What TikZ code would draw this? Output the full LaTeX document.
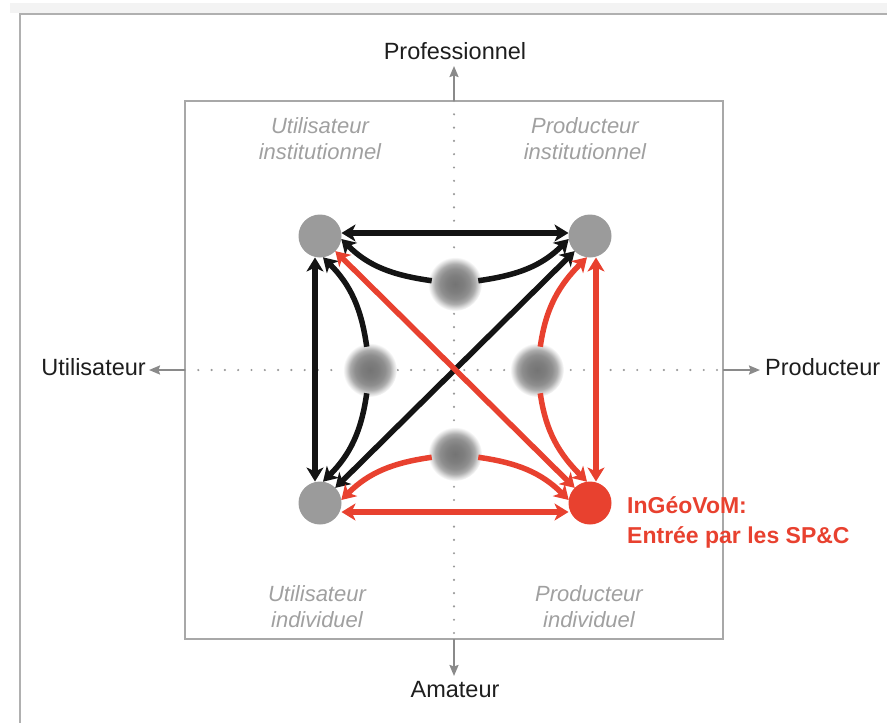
\documentclass[tikz,border=0pt]{standalone}
\usepackage{fontspec}
\setmainfont{Liberation Sans}
\usetikzlibrary{arrows.meta}
\definecolor{cred}{HTML}{E8412F}
\definecolor{cgray}{HTML}{9B9B9B}
\definecolor{cblk}{HTML}{141414}
\definecolor{sqgray}{HTML}{A8A8A8}
\definecolor{axgray}{HTML}{8A8A8A}
\definecolor{dotgray}{HTML}{9A9A9A}
\definecolor{labgray}{HTML}{A0A0A0}
\definecolor{txtdark}{HTML}{1E1E1E}
\definecolor{band}{HTML}{F3F3F3}
\definecolor{frm}{HTML}{B0B0B0}
\definecolor{fza}{HTML}{747474}
\definecolor{fzb}{HTML}{7E7E7E}
\definecolor{fzc}{HTML}{8E8E8E}
\definecolor{fzd}{HTML}{ABABAB}
\definecolor{fze}{HTML}{DADADA}
\pgfdeclareradialshading{fuzz}{\pgfpoint{0bp}{0bp}}{color(0bp)=(fza); color(8bp)=(fzb); color(14bp)=(fzc); color(18.5bp)=(fzd); color(22bp)=(fze); color(25bp)=(white); color(50bp)=(white)}
\tikzset{
  corner/.style={circle, fill=cgray, minimum size=43pt, inner sep=0pt, outer sep=0pt},
  cornerred/.style={corner, fill=cred},
  fuzzy/.style={circle, minimum size=54pt, inner sep=0pt, outer sep=-3.5pt, shade, shading=fuzz},
  blk/.style={draw=cblk, line width=5.5pt},
  rdd/.style={draw=cred, line width=5.5pt},
  onehead/.style={arrows={-Stealth[length=14pt,width=17pt,inset=4pt]}},
  twohead/.style={arrows={Stealth[length=14pt,width=17pt,inset=4pt]-Stealth[length=14pt,width=17pt,inset=4pt]}},
  axarr/.style={draw=axgray, line width=2pt, arrows={-Stealth[length=11pt,width=9pt,inset=1.5pt]}},
  axdot/.style={draw=dotgray, line width=2.4pt, line cap=round, dash pattern=on 0pt off 13.3pt},
  axlab/.style={text=txtdark, font=\fontsize{23.5}{28}\selectfont, inner sep=0pt},
  qlab/.style={text=labgray, font=\fontsize{22}{26}\selectfont\itshape, align=center, inner sep=0pt},
  redlab/.style={text=cred, font=\fontsize{23}{30}\selectfont\bfseries, align=left, inner sep=0pt},
  sqbox/.style={draw=sqgray, line width=1.8pt, minimum width=538pt, minimum height=538pt, inner sep=0pt, outer sep=0pt},
}
\begin{document}
\begin{tikzpicture}[x=1pt,y=1pt]
\useasboundingbox (0,0) rectangle (887,-723);
% screenshot frame
\fill[band] (10,-3) rectangle (887,-13);
\draw[frm, line width=2.5pt] (20,-723) -- (20,-14) -- (887,-14);
% square and axes
\node[sqbox] (sq) at (454,-370) {};
\draw[axdot] (sq.north) -- (sq.south);
\draw[axdot] (sq.west) -- (sq.east);
\coordinate (tipN) at (454,-66);
\coordinate (tipS) at (454,-676);
\coordinate (tipW) at (149,-370);
\coordinate (tipE) at (760,-370);
\draw[axarr] (sq.north) -- (tipN);
\draw[axarr] (sq.south) -- (tipS);
\draw[axarr] (sq.west) -- (tipW);
\draw[axarr] (sq.east) -- (tipE);
\node[axlab, anchor=base] (prof) at (455,-59) {Professionnel};
\node[axlab, anchor=base] (amat) at (455,-697) {Amateur};
\node[axlab, anchor=base east] (util) at (146,-375) {Utilisateur};
\node[axlab, anchor=base west] (prod) at (765,-375) {Producteur};
% quadrant labels (base = last line)
\node[qlab, anchor=base] (qtl) at (320,-159) {Utilisateur\\institutionnel};
\node[qlab, anchor=base] (qtr) at (585,-159) {Producteur\\institutionnel};
\node[qlab, anchor=base] (qbl) at (317,-627) {Utilisateur\\individuel};
\node[qlab, anchor=base] (qbr) at (589,-627) {Producteur\\individuel};
% fuzzy nodes
\node[fuzzy] (FT) at (455,-284) {};
\node[fuzzy] (FL) at (370,-370) {};
\node[fuzzy] (FR) at (537,-370) {};
\node[fuzzy] (FB) at (455,-454) {};
% corner nodes
\node[corner] (TL) at (320,-236) {};
\node[corner] (TR) at (590,-236) {};
\node[corner] (BL) at (320,-503) {};
\node[cornerred] (BR) at (590,-503) {};
% black arrows
\draw[blk, twohead] ([yshift=3pt]TL.east) -- ([yshift=3pt]TR.west);
\draw[blk, twohead] ([xshift=-5pt]TL.south) -- ([xshift=-5pt]BL.north);
\draw[blk, twohead] (BL) -- (TR);
\draw[blk, onehead] (FT.172) to[out=172,in=-45] (TL.-8);
\draw[blk, onehead] (FT.8) to[out=8,in=-135] (TR.-172);
\draw[blk, onehead] (FL.98) to[out=98,in=-45] (TL.-82);
\draw[blk, onehead] (FL.-98) to[out=-98,in=45] (BL.82);
% red arrows
\draw[rdd, twohead] ([yshift=-9pt]BL.east) -- ([yshift=-9pt]BR.west);
\draw[rdd, twohead] ([xshift=6pt]TR.south) -- ([xshift=6pt]BR.north);
\draw[rdd, twohead] (TL) -- (BR);
\draw[rdd, onehead] (FB.188) to[out=188,in=45] (BL.8);
\draw[rdd, onehead] (FB.-8) to[out=-8,in=135] (BR.172);
\draw[rdd, onehead] (FR.82) to[out=82,in=-135] (TR.-98);
\draw[rdd, onehead] (FR.-82) to[out=-82,in=135] (BR.98);
% red label (base = last line)
\node[redlab, anchor=base west] (ingeo) at (627,-543) {InGéoVoM:\\Entrée par les SP\&C};
\end{tikzpicture}
\end{document}
